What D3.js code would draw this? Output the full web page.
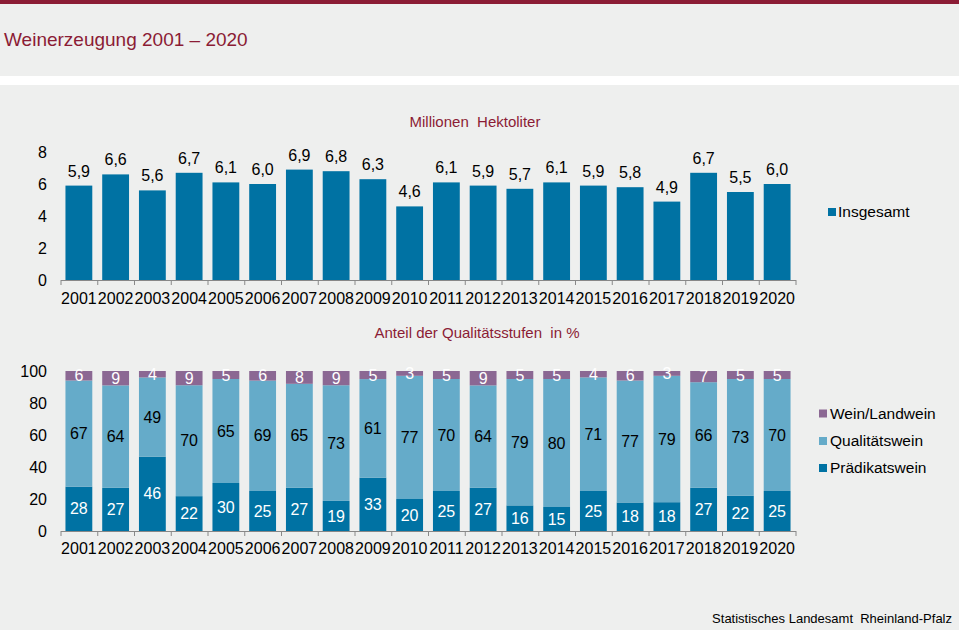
<!DOCTYPE html>
<html lang="de">
<head>
  <meta charset="UTF-8">
  <title>Weinerzeugung 2001 – 2020</title>
  <style>
    body { margin: 0; background: #eeefee; }
    svg { display: block; font-family: "Liberation Sans", Arial, sans-serif; }
  </style>
</head>
<body>
  <div id="chart"></div>
  <script src="https://d3js.org/d3.v7.min.js"></script>
  <script>

    // data
    var years = ["2001","2002","2003","2004","2005","2006","2007","2008","2009","2010",
                 "2011","2012","2013","2014","2015","2016","2017","2018","2019","2020"];
    var insgesamt = [5.9, 6.6, 5.6, 6.7, 6.1, 6.0, 6.9, 6.8, 6.3, 4.6,
                     6.1, 5.9, 5.7, 6.1, 5.9, 5.8, 4.9, 6.7, 5.5, 6.0];
    var praedikatswein = [28, 27, 46, 22, 30, 25, 27, 19, 33, 20, 25, 27, 16, 15, 25, 18, 18, 27, 22, 25];
    var qualitaetswein = [67, 64, 49, 70, 65, 69, 65, 73, 61, 77, 70, 64, 79, 80, 71, 77, 79, 66, 73, 70];
    var landwein       = [ 6,  9,  4,  9,  5,  6,  8,  9,  5,  3,  5,  9,  5,  5,  4,  6,  3,  7,  5,  5];
    var topTicks = [0, 2, 4, 6, 8];
    var pctTicks = [0, 20, 40, 60, 80, 100];

    var W = 959, H = 630;
    var maroon = "#8b1c35";
    var colors = { praed: "#0072a3", qual: "#65abc9", land: "#8b6893" };

    var svg = d3.select("#chart").append("svg").attr("width", W).attr("height", H);

    svg.append("rect").attr("width", W).attr("height", H).attr("fill", "#eeefee");
    svg.append("rect").attr("width", W).attr("height", 4).attr("fill", maroon);
    svg.append("rect").attr("y", 76).attr("width", W).attr("height", 9).attr("fill", "#ffffff");

    svg.append("text").attr("x", 4).attr("y", 46)
      .attr("font-size", 19).attr("fill", maroon)
      .text("Weinerzeugung 2001 – 2020");

    svg.append("text").attr("x", 952).attr("y", 623)
      .attr("text-anchor", "end").attr("font-size", 13).attr("fill", "#000")
      .style("white-space", "pre")
      .text("Statistisches Landesamt  Rheinland-Pfalz");

    var x = d3.scaleBand().domain(years).range([60.5, 795.5])
      .paddingInner(0.27).paddingOuter(0.135);
    var xEdge = d3.scaleLinear().domain([0, years.length]).range([60.5, 795.5]);

    function drawXAxis(g, y0, labelY) {
      // tick marks sit between the categories
      var edges = g.append("g").attr("transform", "translate(0," + y0 + ")")
        .call(d3.axisBottom(xEdge).tickValues(d3.range(years.length + 1))
          .tickSize(5).tickSizeOuter(0).tickFormat(""));
      edges.selectAll("path, line").attr("stroke", "#888888");

      g.append("g").selectAll("text").data(years).enter().append("text")
        .attr("x", d => x(d) + x.bandwidth() / 2)
        .attr("y", labelY)
        .attr("text-anchor", "middle").attr("font-size", 16).attr("fill", "#000")
        .text(d => d);
    }

    function drawYAxis(g, scale, ticks, fmt) {
      var ax = g.append("g").attr("transform", "translate(47,0)")
        .call(d3.axisLeft(scale).tickValues(ticks).tickSize(0).tickPadding(0).tickFormat(fmt));
      ax.select(".domain").remove();
      ax.selectAll("text").attr("font-size", 16).attr("fill", "#000")
        .attr("font-family", "Liberation Sans, Arial, sans-serif");
    }

    // ---- top chart: Millionen Hektoliter
    var topG = svg.append("g");
    var yTop = d3.scaleLinear().domain([0, 8]).range([280, 152]);

    topG.append("text").attr("x", 475).attr("y", 127)
      .attr("text-anchor", "middle").attr("font-size", 15).attr("fill", maroon)
      .style("white-space", "pre")
      .text("Millionen  Hektoliter");

    drawYAxis(topG, yTop, topTicks, d => d);

    topG.selectAll("rect.bar").data(insgesamt).enter().append("rect")
      .attr("class", "bar")
      .attr("x", (d, i) => x(years[i]))
      .attr("width", x.bandwidth())
      .attr("y", d => yTop(d))
      .attr("height", d => yTop(0) - yTop(d))
      .attr("fill", colors.praed);

    topG.selectAll("text.val").data(insgesamt).enter().append("text")
      .attr("class", "val")
      .attr("x", (d, i) => x(years[i]) + x.bandwidth() / 2)
      .attr("y", d => yTop(d) - 9)
      .attr("text-anchor", "middle").attr("font-size", 16).attr("fill", "#000")
      .text(d => d3.format(".1f")(d).replace(".", ","));

    drawXAxis(topG, 280, 304);

    topG.append("rect").attr("x", 828).attr("y", 208).attr("width", 8).attr("height", 8)
      .attr("fill", colors.praed);
    topG.append("text").attr("x", 838).attr("y", 212).attr("dy", "0.35em")
      .attr("font-size", 15.5).attr("fill", "#000").text("Insgesamt");

    // ---- bottom chart: Anteil der Qualitaetsstufen (100% gestapelt)
    var botG = svg.append("g");
    var yBot = d3.scaleLinear().domain([0, 1]).range([531, 371]);

    botG.append("text").attr("x", 477).attr("y", 338)
      .attr("text-anchor", "middle").attr("font-size", 15).attr("fill", maroon)
      .style("white-space", "pre")
      .text("Anteil der Qualitätsstufen  in %");

    drawYAxis(botG, yBot, pctTicks.map(d => d / 100), d => Math.round(d * 100));

    var rows = years.map((y, i) => ({
      year: y, praed: praedikatswein[i], qual: qualitaetswein[i], land: landwein[i]
    }));
    var keys = ["praed", "qual", "land"];
    var series = d3.stack().keys(keys).offset(d3.stackOffsetExpand)(rows);
    var labelColor = { praed: "#ffffff", qual: "#000000", land: "#ffffff" };

    var layer = botG.selectAll("g.layer").data(series).enter().append("g")
      .attr("class", "layer")
      .attr("fill", d => colors[d.key]);

    layer.selectAll("rect").data(d => d).enter().append("rect")
      .attr("x", d => x(d.data.year))
      .attr("width", x.bandwidth())
      .attr("y", d => yBot(d[1]))
      .attr("height", d => yBot(d[0]) - yBot(d[1]));

    layer.selectAll("text").data(d => d.map(p => ({ p: p, key: d.key }))).enter().append("text")
      .attr("x", d => x(d.p.data.year) + x.bandwidth() / 2)
      .attr("y", d => yBot((d.p[0] + d.p[1]) / 2))
      .attr("dy", "0.35em")
      .attr("text-anchor", "middle").attr("font-size", 16)
      .attr("fill", d => labelColor[d.key])
      .text(d => d.p.data[d.key]);

    drawXAxis(botG, 531, 554);

    var legend = [
      { key: "land", name: "Wein/Landwein", y: 413.5 },
      { key: "qual", name: "Qualitätswein", y: 441 },
      { key: "praed", name: "Prädikatswein", y: 468 }
    ];
    var lg = botG.selectAll("g.leg").data(legend).enter().append("g").attr("class", "leg");
    lg.append("rect").attr("x", 819).attr("y", d => d.y - 4).attr("width", 8).attr("height", 8)
      .attr("fill", d => colors[d.key]);
    lg.append("text").attr("x", 830).attr("y", d => d.y).attr("dy", "0.35em")
      .attr("font-size", 15.5).attr("fill", "#000").text(d => d.name);

  </script>
</body>
</html>
